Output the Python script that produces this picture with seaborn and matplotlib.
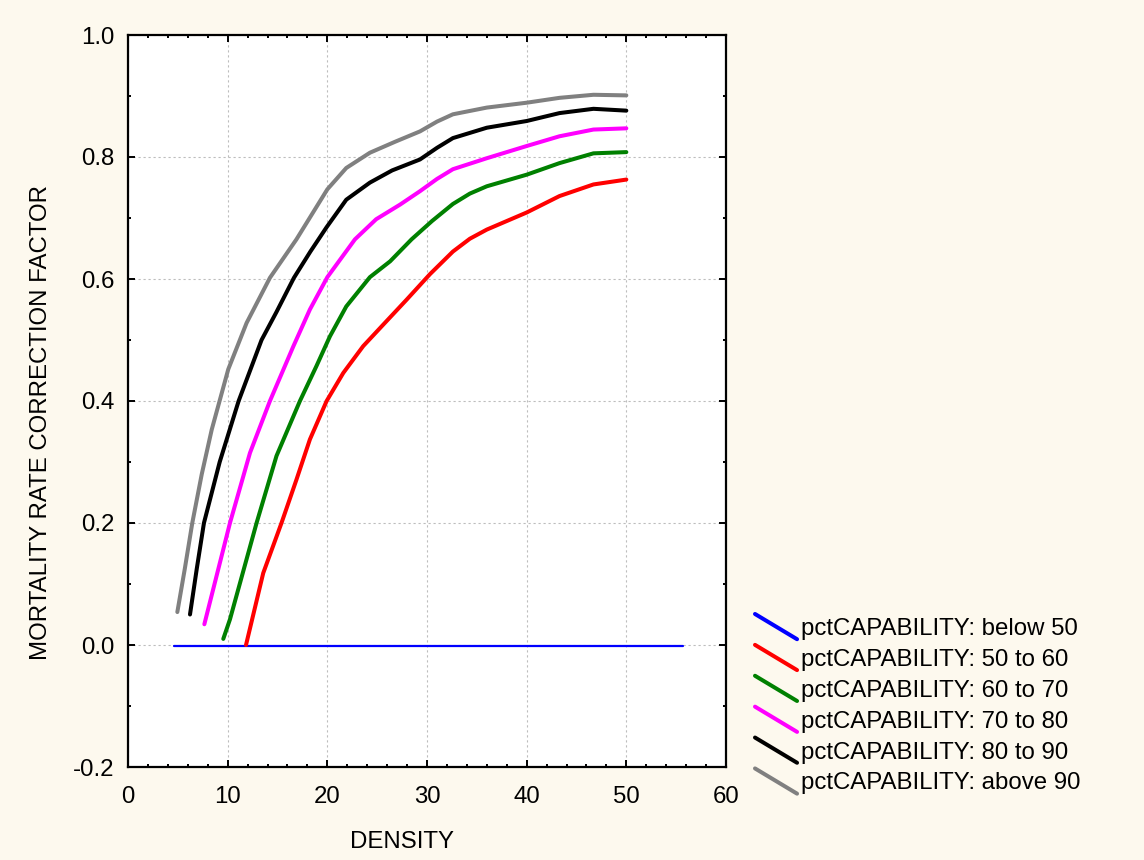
import pandas as pd
import matplotlib.pyplot as plt
import seaborn as sns
from matplotlib.lines import Line2D
from matplotlib.legend_handler import HandlerLine2D
from matplotlib.ticker import MultipleLocator

# --- Datos ---
labels = ['pctCAPABILITY: below 50', 'pctCAPABILITY: 50 to 60', 'pctCAPABILITY: 60 to 70',
          'pctCAPABILITY: 70 to 80', 'pctCAPABILITY: 80 to 90', 'pctCAPABILITY: above 90']
colors = ['#0000FF', '#FF0000', '#008000', '#FF00FF', '#000000', '#808080']

below50_x = [4.6, 55.7]
below50_y = [-0.002, -0.002]

r50_60_x = [11.84, 13.57, 15.4, 16.9, 18.25, 19.93, 21.6, 23.6, 25.6, 27.95, 30.3, 32.6, 34.3, 36.0, 38.0, 40.0, 43.3, 46.7, 50.0]
r50_60_y = [0.0, 0.118, 0.200, 0.271, 0.337, 0.400, 0.446, 0.490, 0.525, 0.566, 0.608, 0.645, 0.666, 0.681, 0.695, 0.709, 0.736, 0.755, 0.763]

r60_70_x = [9.56, 10.23, 12.9, 14.9, 17.25, 18.9, 20.26, 21.9, 24.27, 26.3, 28.45, 30.5, 32.6, 34.3, 36.0, 40.0, 43.3, 46.7, 50.0]
r60_70_y = [0.010, 0.042, 0.200, 0.310, 0.400, 0.457, 0.506, 0.555, 0.603, 0.629, 0.665, 0.695, 0.723, 0.740, 0.752, 0.771, 0.790, 0.806, 0.808]

r70_80_x = [7.66, 10.23, 12.24, 14.24, 16.6, 18.25, 20.0, 22.77, 24.9, 27.3, 29.3, 31.0, 32.6, 36.0, 40.0, 43.3, 46.7, 50.0]
r70_80_y = [0.034, 0.200, 0.315, 0.400, 0.490, 0.550, 0.603, 0.665, 0.698, 0.722, 0.744, 0.764, 0.780, 0.798, 0.818, 0.834, 0.845, 0.847]

r80_90_x = [6.22, 6.9, 7.62, 9.2, 11.1, 13.4, 14.9, 16.65, 18.3, 19.93, 21.9, 24.27, 26.5, 29.3, 31.0, 32.6, 36.0, 40.0, 43.3, 46.7, 50.0]
r80_90_y = [0.050, 0.125, 0.200, 0.300, 0.400, 0.500, 0.546, 0.602, 0.645, 0.685, 0.730, 0.758, 0.778, 0.796, 0.815, 0.831, 0.848, 0.859, 0.872, 0.879, 0.876]

above90_x = [4.95, 5.7, 6.45, 7.4, 8.4, 10.06, 11.9, 14.24, 16.9, 20.0, 21.9, 24.27, 26.8, 29.3, 31.0, 32.6, 36.0, 40.0, 43.3, 46.7, 50.0]
above90_y = [0.054, 0.125, 0.200, 0.280, 0.353, 0.452, 0.528, 0.602, 0.665, 0.747, 0.782, 0.807, 0.825, 0.842, 0.858, 0.870, 0.881, 0.889, 0.897, 0.902, 0.901]

series_x = [below50_x, r50_60_x, r60_70_x, r70_80_x, r80_90_x, above90_x]
series_y = [below50_y, r50_60_y, r60_70_y, r70_80_y, r80_90_y, above90_y]

rows = []
for lab, xs, ys in zip(labels, series_x, series_y):
    for xv, yv in zip(xs, ys):
        rows.append({'DENSITY': xv, 'FACTOR': yv, 'grupo': lab})
df = pd.DataFrame(rows)


class DiagonalHandler(HandlerLine2D):
    # linea diagonal en la leyenda
    def create_artists(self, legend, orig_handle, xdescent, ydescent, width, height, fontsize, trans):
        line = Line2D([-xdescent, -xdescent + width],
                      [-ydescent + height * 1.25, -ydescent - height * 0.25],
                      color=orig_handle.get_color(), linewidth=2.9, solid_capstyle='round')
        line.set_transform(trans)
        return [line]


sns.set_theme(style='white')
plt.rcParams['font.family'] = ['Liberation Sans', 'DejaVu Sans']
plt.rcParams['axes.unicode_minus'] = False
plt.rcParams['text.color'] = 'black'

fs = 17.3
bg = '#FDF9EE'
fig = plt.figure(figsize=(11.44, 8.6), dpi=100, facecolor=bg)
ax = fig.add_axes([128 / 1144, 1 - 767 / 860, (726 - 128) / 1144, (767 - 35) / 860])
ax.set_facecolor('white')

sns.lineplot(data=df, x='DENSITY', y='FACTOR', hue='grupo', hue_order=labels,
             palette=colors, estimator=None, sort=False, legend=False, ax=ax)
for ln in ax.lines:
    ln.set_linewidth(2.9)
    ln.set_solid_capstyle('round')
    ln.set_solid_joinstyle('round')
ax.lines[0].set_linewidth(1.6)

ax.set_xlim(0, 60)
ax.set_ylim(-0.2, 1.0)
ax.xaxis.set_major_locator(MultipleLocator(10))
ax.xaxis.set_minor_locator(MultipleLocator(2))
ax.yaxis.set_major_locator(MultipleLocator(0.2))
ax.yaxis.set_minor_locator(MultipleLocator(0.1))
ax.set_yticks(ax.get_yticks())
ax.set_yticklabels([f'{v:.1f}' for v in ax.get_yticks()])
ax.set_ylim(-0.2, 1.0)
ax.tick_params(which='both', direction='in', top=True, right=True, bottom=True, left=True,
               colors='black', labelsize=fs, width=1.4)
ax.tick_params(which='major', length=5)
ax.tick_params(axis='x', which='major', pad=14)
ax.tick_params(axis='y', which='major', pad=10)
ax.tick_params(which='minor', length=2.5)
ax.grid(True, which='major', color='#bdbdbd', linestyle=(0, (2, 2.5)), linewidth=0.8)
for sp in ax.spines.values():
    sp.set_color('black')
    sp.set_linewidth(1.6)

ax.set_xlabel('DENSITY', fontsize=fs, color='black')
ax.set_ylabel('MORTALITY RATE CORRECTION FACTOR', fontsize=fs, color='black')
ax.xaxis.set_label_coords(0.458, -0.088)
ax.yaxis.set_label_coords(-0.127, 0.471)

handles = [Line2D([], [], color=c) for c in colors]
leg = fig.legend(handles, labels, loc='upper left', bbox_to_anchor=(755 / 1144, 1 - 618 / 860),
                 frameon=False, fontsize=fs, handlelength=1.75, handletextpad=0.15,
                 labelspacing=0.37, borderpad=0, borderaxespad=0,
                 handler_map={Line2D: DiagonalHandler()})
for t in leg.get_texts():
    t.set_color('black')

plt.savefig('out.png', dpi=100, facecolor=bg)
